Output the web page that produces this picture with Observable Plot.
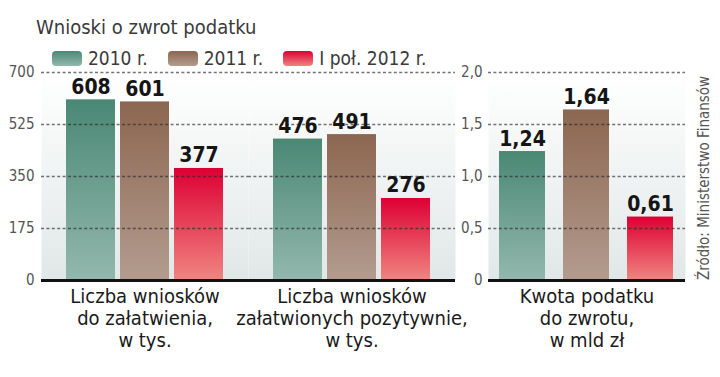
<!DOCTYPE html>
<html>
<head>
<meta charset="utf-8">
<script src="https://cdn.jsdelivr.net/npm/d3@7"></script>
<script src="https://cdn.jsdelivr.net/npm/@observablehq/plot@0.6"></script>
<style>
  html, body { margin: 0; padding: 0; background: #fff; }
  #chart { position: relative; width: 720px; height: 377px; overflow: hidden; font-family: 'DejaVu Sans Condensed', 'Liberation Sans Narrow', sans-serif; }
  #title { position: absolute; left: 36px; top: 15px; font-size: 20px; color: #3a3a3a; z-index: 2; }
  #legend { position: absolute; left: 52px; top: 47px; display: flex; align-items: center; font-size: 19px; color: #3a3a3a; z-index: 2; }
  .item { display: flex; align-items: center; margin-right: 20px; }
  .sw { width: 30px; height: 15px; border-radius: 4px; margin-right: 6px; }
  #left, #right { position: absolute; top: 0; }
  #left { left: 0; }
  #right { left: 440px; }
  #source { position: absolute; left: 697px; top: 280px; transform-origin: 0 0; transform: rotate(-90deg); white-space: nowrap; font-size: 15px; color: #555; line-height: 1; }
</style>
</head>
<body>
<svg width="0" height="0" style="position:absolute">
  <defs>
    <linearGradient id="gGreen" x1="0" y1="0" x2="0" y2="1"><stop offset="0" stop-color="#4a8874"/><stop offset="1" stop-color="#93b8ad"/></linearGradient>
    <linearGradient id="gBrown" x1="0" y1="0" x2="0" y2="1"><stop offset="0" stop-color="#8c6650"/><stop offset="1" stop-color="#b39c8f"/></linearGradient>
    <linearGradient id="gRed" x1="0" y1="0" x2="0" y2="1"><stop offset="0" stop-color="#dd0033"/><stop offset="1" stop-color="#f08580"/></linearGradient>
    <linearGradient id="bg" x1="0" y1="0" x2="0" y2="1"><stop offset="0" stop-color="#ffffff"/><stop offset="1" stop-color="#e1e7e7"/></linearGradient>
  </defs>
</svg>
<div id="chart">
  <div id="title"></div>
  <div id="legend"></div>
  <div id="left"></div>
  <div id="right"></div>
  <div id="source"></div>
</div>
<script>
// ---- data ----
const titleText = "Wnioski o zwrot podatku";
const sourceText = "Źródło: Ministerstwo Finansów";
const years = ["2010 r.", "2011 r.", "I poł. 2012 r."];
const leftGroups = ["Liczba wniosków\ndo załatwienia,\nw tys.", "Liczba wniosków\nzałatwionych pozytywnie,\nw tys."];
const rightGroup = "Kwota podatku\ndo zwrotu,\nw mld zł";
const toSettle = [608, 601, 377];
const approvedPositive = [476, 491, 276];
const refundAmount = [1.24, 1.64, 0.61];
const leftTicks = [0, 175, 350, 525, 700];
const rightTicks = [0, 0.5, 1.0, 1.5, 2.0];
const barFills = ["url(#gGreen)", "url(#gBrown)", "url(#gRed)"];
const swatchCss = ["linear-gradient(#4a8874,#93b8ad)", "linear-gradient(#8c6650,#b39c8f)", "linear-gradient(#dd0033,#f08580)"];

const FONT = "'DejaVu Sans Condensed', 'Liberation Sans Narrow', sans-serif";
const comma = (d, digits) => d === 0 ? "0" : d.toFixed(digits).replace(".", ",");

document.getElementById("title").textContent = titleText;
document.getElementById("source").textContent = sourceText;
const legend = document.getElementById("legend");
years.forEach((y, i) => {
  const it = document.createElement("div"); it.className = "item";
  const sw = document.createElement("div"); sw.className = "sw"; sw.style.background = swatchCss[i];
  const tx = document.createElement("span"); tx.textContent = y;
  it.appendChild(sw); it.appendChild(tx); legend.appendChild(it);
});

const leftData = [];
[toSettle, approvedPositive].forEach((vals, gi) =>
  years.forEach((y, yi) => leftData.push({group: leftGroups[gi], year: y, value: vals[yi]})));
const rightData = years.map((y, i) => ({year: y, value: refundAmount[i]}));

const gridStyle = {stroke: "#2a2a2a", strokeOpacity: 0.65, strokeDasharray: "3,2.4", strokeWidth: 1.4};
const catStyle = {frameAnchor: "bottom", lineAnchor: "top", dy: 7, lineHeight: 1.1, fontSize: 20, fill: "#1a1a1a"};
const valStyle = {lineAnchor: "bottom", dy: -6, fontSize: 21, fontWeight: "bold", fill: "#151515"};

const left = Plot.plot({
  width: 460, height: 377,
  marginTop: 72, marginBottom: 97, marginLeft: 40, marginRight: 5,
  style: {fontFamily: FONT, fontSize: "15px", background: "transparent", overflow: "visible"},
  fx: {domain: leftGroups, paddingInner: 0, paddingOuter: 0, axis: null, label: null},
  x: {domain: years, paddingInner: 0.0909, paddingOuter: 0.432, axis: null},
  y: {domain: [0, 700], label: null},
  color: {domain: years, range: barFills},
  marks: [
    Plot.frame({fill: "url(#bg)", stroke: null}),
    Plot.barY(leftData, {fx: "group", x: "year", y: "value", fill: "year"}),
    Plot.ruleY(leftTicks.slice(1), gridStyle),
    Plot.ruleY([0], {stroke: "#111", strokeWidth: 3}),
    Plot.axisY({ticks: leftTicks, tickSize: 0, tickPadding: 7, color: "#555", fontSize: 15, tickFormat: d => String(d)}),
    Plot.text(leftData, {fx: "group", x: "year", y: "value", text: d => String(d.value), ...valStyle}),
    Plot.text(leftGroups, {fx: d => d, text: d => d, ...catStyle})
  ]
});
document.getElementById("left").appendChild(left);

const right = Plot.plot({
  width: 250, height: 377,
  marginTop: 72, marginBottom: 97, marginLeft: 48, marginRight: 5,
  style: {fontFamily: FONT, fontSize: "15px", background: "transparent", overflow: "visible"},
  x: {domain: years, paddingInner: 0.277, paddingOuter: 0.154, axis: null},
  y: {domain: [0, 2], label: null},
  color: {domain: years, range: barFills},
  marks: [
    Plot.frame({fill: "url(#bg)", stroke: null}),
    Plot.barY(rightData, {x: "year", y: "value", fill: "year"}),
    Plot.ruleY(rightTicks.slice(1), gridStyle),
    Plot.ruleY([0], {stroke: "#111", strokeWidth: 3}),
    Plot.axisY({ticks: rightTicks, tickSize: 0, tickPadding: 6, color: "#555", fontSize: 15, tickFormat: d => comma(d, 1)}),
    Plot.text(rightData, {x: "year", y: "value", text: d => comma(d.value, 2), ...valStyle}),
    Plot.text([rightGroup], {text: d => d, ...catStyle})
  ]
});
document.getElementById("right").appendChild(right);
</script>
</body>
</html>
